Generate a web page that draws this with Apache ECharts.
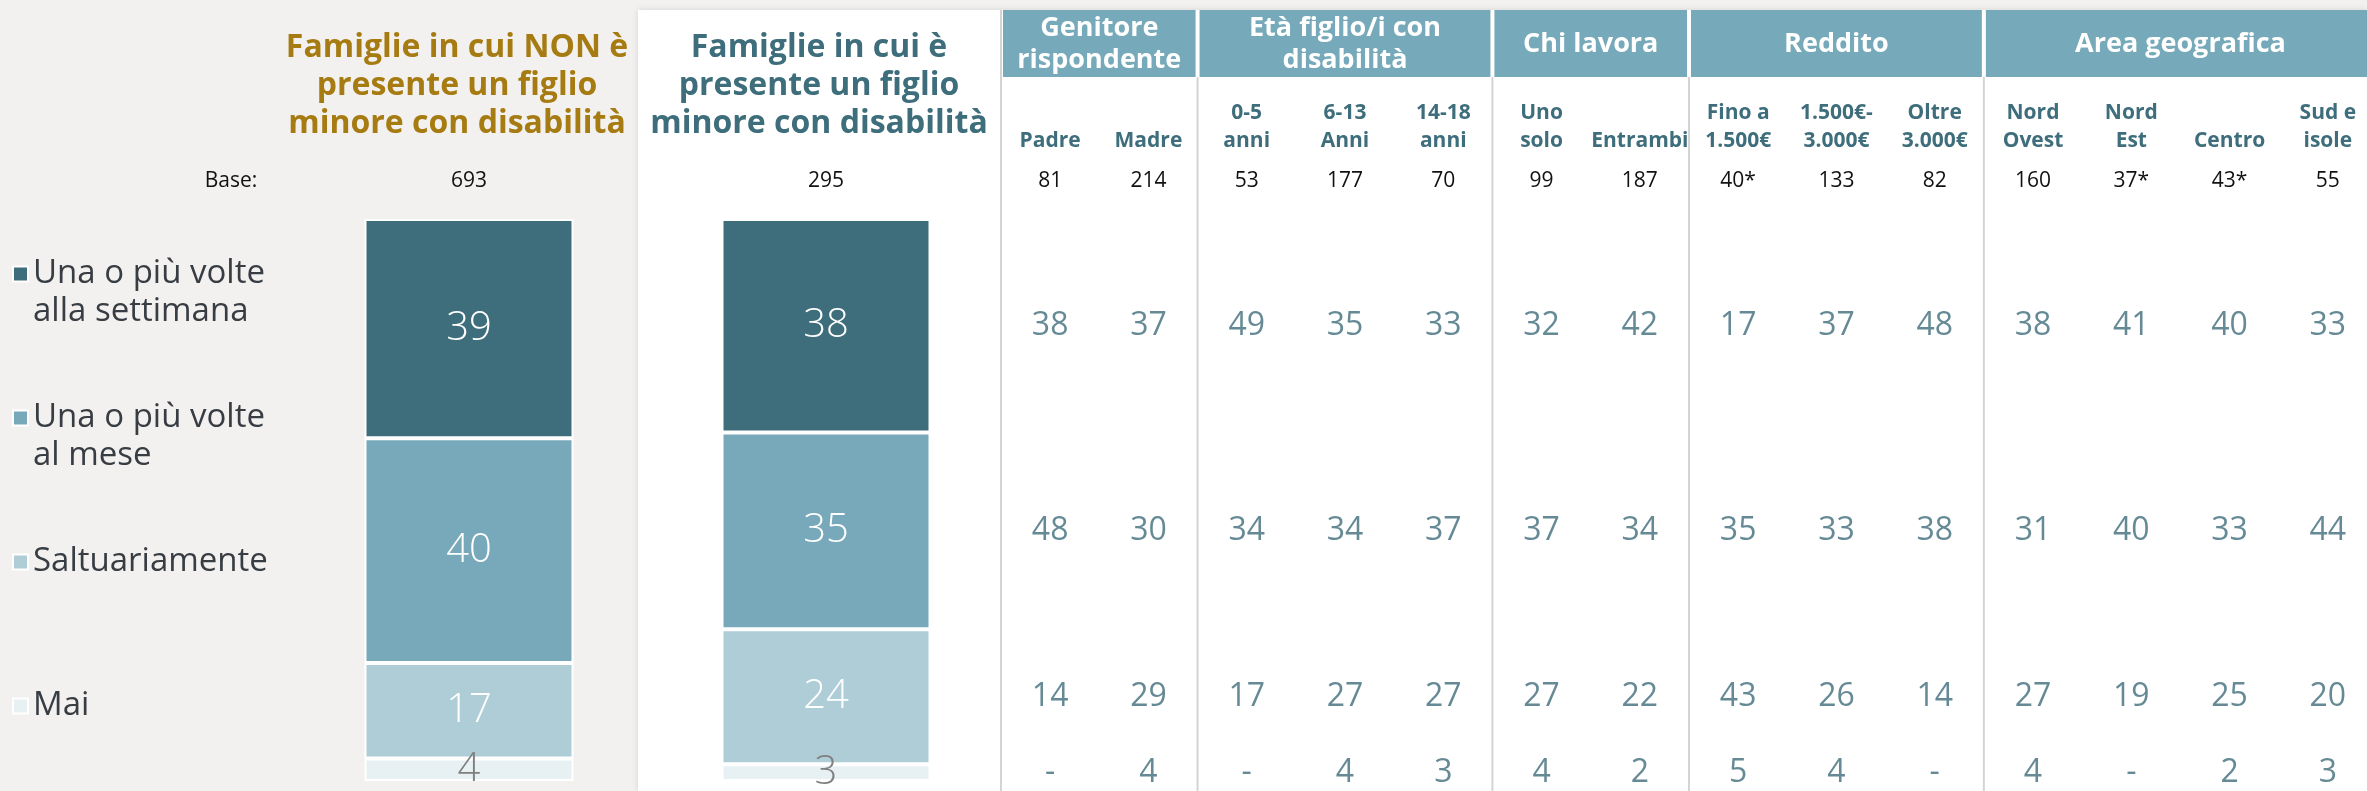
<!DOCTYPE html>
<html>
<head>
<meta charset="utf-8">
<title>Frequenza</title>
<script src="https://cdn.jsdelivr.net/npm/echarts@6/dist/echarts.min.js"></script>
<style>
    html, body { margin: 0; padding: 0; background: #f2f1ef; }
    #main { width: 2367px; height: 791px; }
</style>
</head>
<body>
<div id="main"></div>
<script>
// risposte, dall'alto in basso
var risposte = ['Una o più volte\nalla settimana', 'Una o più volte\nal mese', 'Saltuariamente', 'Mai'];

// le due barre
var gruppiBarre = ['Famiglie in cui NON è\npresente un figlio\nminore con disabilità', 'Famiglie in cui è\npresente un figlio\nminore con disabilità'];
var baseBarre = [693, 295];
var settimanaBarre = [39, 38];
var meseBarre = [40, 35];
var saltBarre = [17, 24];
var maiBarre = [4, 3];

// tabella a destra
var gruppiTab = ['Genitore\nrispondente', 'Età figlio/i con\ndisabilità', 'Chi lavora', 'Reddito', 'Area geografica'];
var colonnePerGruppo = [2, 3, 2, 3, 4];
var colonneTab = ['Padre', 'Madre', '0-5\nanni', '6-13\nAnni', '14-18\nanni', 'Uno\nsolo', 'Entrambi',
    'Fino a\n1.500€', '1.500€-\n3.000€', 'Oltre\n3.000€', 'Nord\nOvest', 'Nord\nEst', 'Centro', 'Sud e\nisole'];
var baseTab = ['81', '214', '53', '177', '70', '99', '187', '40*', '133', '82', '160', '37*', '43*', '55'];
var settimanaTab = [38, 37, 49, 35, 33, 32, 42, 17, 37, 48, 38, 41, 40, 33];
var meseTab = [48, 30, 34, 34, 37, 37, 34, 35, 33, 38, 31, 40, 33, 44];
var saltTab = [14, 29, 17, 27, 27, 27, 22, 43, 26, 14, 27, 19, 25, 20];
var maiTab = [null, 4, null, 4, 3, 4, 2, 5, 4, null, 4, null, 2, 3];   // null = "-"

var FONT = 'Open Sans';
var TEAL = '#3e6d7b';
var colori = ['#3e6d7b', '#78a9ba', '#aecdd7', '#e7f0f3'];

// le righe della tabella stanno al centro dei segmenti della seconda barra
var pila = [maiBarre[1], saltBarre[1], meseBarre[1], settimanaBarre[1]];
var centri = [], acc = 0;
for (var i = 0; i < pila.length; i++) {
    centri.push(acc + pila[i] / 2);
    acc += pila[i];
}
centri.reverse();

var righeTab = [settimanaTab, meseTab, saltTab, maiTab];
var celle = [];
for (var r = 0; r < righeTab.length; r++) {
    for (var c = 0; c < colonneTab.length; c++) {
        celle.push([c, centri[r], righeTab[r][c]]);
    }
}

var gruppoDati = [], inizio = 0;
for (var g = 0; g < colonnePerGruppo.length; g++) {
    gruppoDati.push([inizio, colonnePerGruppo[g]]);
    inizio += colonnePerGruppo[g];
}

function serieBarra(nome, valori, colore, coloreEtichetta) {
    return {
        name: nome,
        type: 'bar',
        stack: 'tot',
        xAxisIndex: 0,
        yAxisIndex: 0,
        barWidth: 209,
        data: valori,
        itemStyle: { color: colore, borderColor: '#fff', borderWidth: 2 },
        label: {
            show: true, position: 'inside', color: coloreEtichetta,
            fontSize: 40, fontFamily: FONT, fontWeight: 300
        },
        emphasis: { disabled: true }
    };
}

var chart = echarts.init(document.getElementById('main'));

chart.setOption({
    backgroundColor: '#f2f1ef',
    animation: false,
    title: [
        {
            text: gruppiBarre[0], left: 457, top: 29, padding: 0, textAlign: 'center',
            textStyle: { fontSize: 32, fontWeight: 'bold', color: '#a67c12', lineHeight: 38, fontFamily: FONT }
        },
        {
            text: gruppiBarre[1], left: 819, top: 29, padding: 0, textAlign: 'center',
            textStyle: { fontSize: 32, fontWeight: 'bold', color: TEAL, lineHeight: 38, fontFamily: FONT }
        },
        {
            text: 'Base:', left: 231, top: 168, padding: 0, textAlign: 'center',
            textStyle: { fontSize: 21, fontWeight: 'normal', color: '#111', lineHeight: 26, fontFamily: FONT }
        }
    ],
    graphic: [{
        type: 'rect',
        shape: { x: 638, y: 10, width: 1729, height: 781 },
        style: { fill: '#fff', shadowBlur: 6, shadowColor: 'rgba(0,0,0,0.12)' },
        z: 0
    }],
    legend: {
        orient: 'vertical', left: 12, top: 217, padding: 0,
        itemGap: 30, itemWidth: 15, itemHeight: 15, icon: 'rect',
        selectedMode: false,
        data: risposte,
        // il quadratino va accanto alla prima riga: riga vuota sopra, e sotto se serve
        formatter: function (n) {
            return n.indexOf('\n') >= 0 ? ' \n' + n : ' \n' + n + '\n ';
        },
        textStyle: { fontSize: 33, fontFamily: FONT, color: '#383d43', lineHeight: 38 }
    },
    grid: [
        { left: 290.5, width: 714, top: 219, bottom: 10, outerBoundsMode: 'none' },
        { left: 1001, width: 1376, top: 219, bottom: 10, outerBoundsMode: 'none' }
    ],
    xAxis: [
        {
            type: 'category', gridIndex: 0, position: 'top', data: gruppiBarre,
            axisLine: { show: false }, axisTick: { show: false }, splitLine: { show: false },
            axisLabel: {
                interval: 0, margin: 12,
                formatter: function (v, i) { return '{b|' + baseBarre[i] + '}'; },
                rich: { b: { fontSize: 21, lineHeight: 52, color: '#111', fontFamily: FONT } }
            }
        },
        {
            type: 'category', gridIndex: 1, position: 'top', data: colonneTab,
            axisLine: { show: false }, axisTick: { show: false }, splitLine: { show: false },
            axisLabel: {
                interval: 0, margin: 12,
                formatter: function (v, i) {
                    return v.split('\n').map(function (t) { return '{h|' + t + '}'; }).join('\n') +
                        '\n{b|' + baseTab[i] + '}';
                },
                rich: {
                    h: { fontSize: 21, fontWeight: 'bold', color: TEAL, lineHeight: 28, fontFamily: FONT },
                    b: { fontSize: 21, lineHeight: 52, color: '#111', fontFamily: FONT }
                }
            }
        }
    ],
    yAxis: [
        { type: 'value', gridIndex: 0, min: 0, max: 100, show: false },
        { type: 'value', gridIndex: 1, min: 0, max: 100, show: false }
    ],
    series: [
        serieBarra(risposte[3], maiBarre, colori[3], '#7f7f7f'),
        serieBarra(risposte[2], saltBarre, colori[2], '#fff'),
        serieBarra(risposte[1], meseBarre, colori[1], '#fff'),
        serieBarra(risposte[0], settimanaBarre, colori[0], '#fff'),
        {
            type: 'custom',
            xAxisIndex: 1,
            yAxisIndex: 1,
            clip: false,
            silent: true,
            data: gruppoDati,
            renderItem: function (params, api) {
                var n = api.value(1);
                var c = api.coord([api.value(0), 0]);
                var bw = api.size([1, 0])[0];
                var x0 = c[0] - bw / 2;
                return {
                    type: 'group',
                    children: [
                        {
                            type: 'line',
                            shape: { x1: x0, y1: params.dataIndex === 0 ? 10 : 77, x2: x0, y2: 791 },
                            style: { stroke: '#d4d4d4', lineWidth: 2 }
                        },
                        {
                            type: 'rect',
                            shape: { x: x0 + 2, y: 10, width: n * bw - 4, height: 67 },
                            style: { fill: '#76a9b9' }
                        },
                        {
                            type: 'text',
                            style: {
                                text: gruppiTab[params.dataIndex], x: x0 + n * bw / 2, y: 44,
                                align: 'center', verticalAlign: 'middle', fill: '#fff',
                                fontSize: 27, fontWeight: 'bold', fontFamily: FONT, lineHeight: 32
                            }
                        }
                    ]
                };
            }
        },
        {
            type: 'scatter',
            xAxisIndex: 1,
            yAxisIndex: 1,
            data: celle,
            symbolSize: 1,
            silent: true,
            itemStyle: { color: 'rgba(0,0,0,0)' },
            label: {
                show: true, position: 'inside',
                formatter: function (p) { return p.data[2] == null ? '-' : p.data[2]; },
                fontSize: 32, color: TEAL, fontFamily: FONT
            }
        }
    ]
});
</script>
</body>
</html>
